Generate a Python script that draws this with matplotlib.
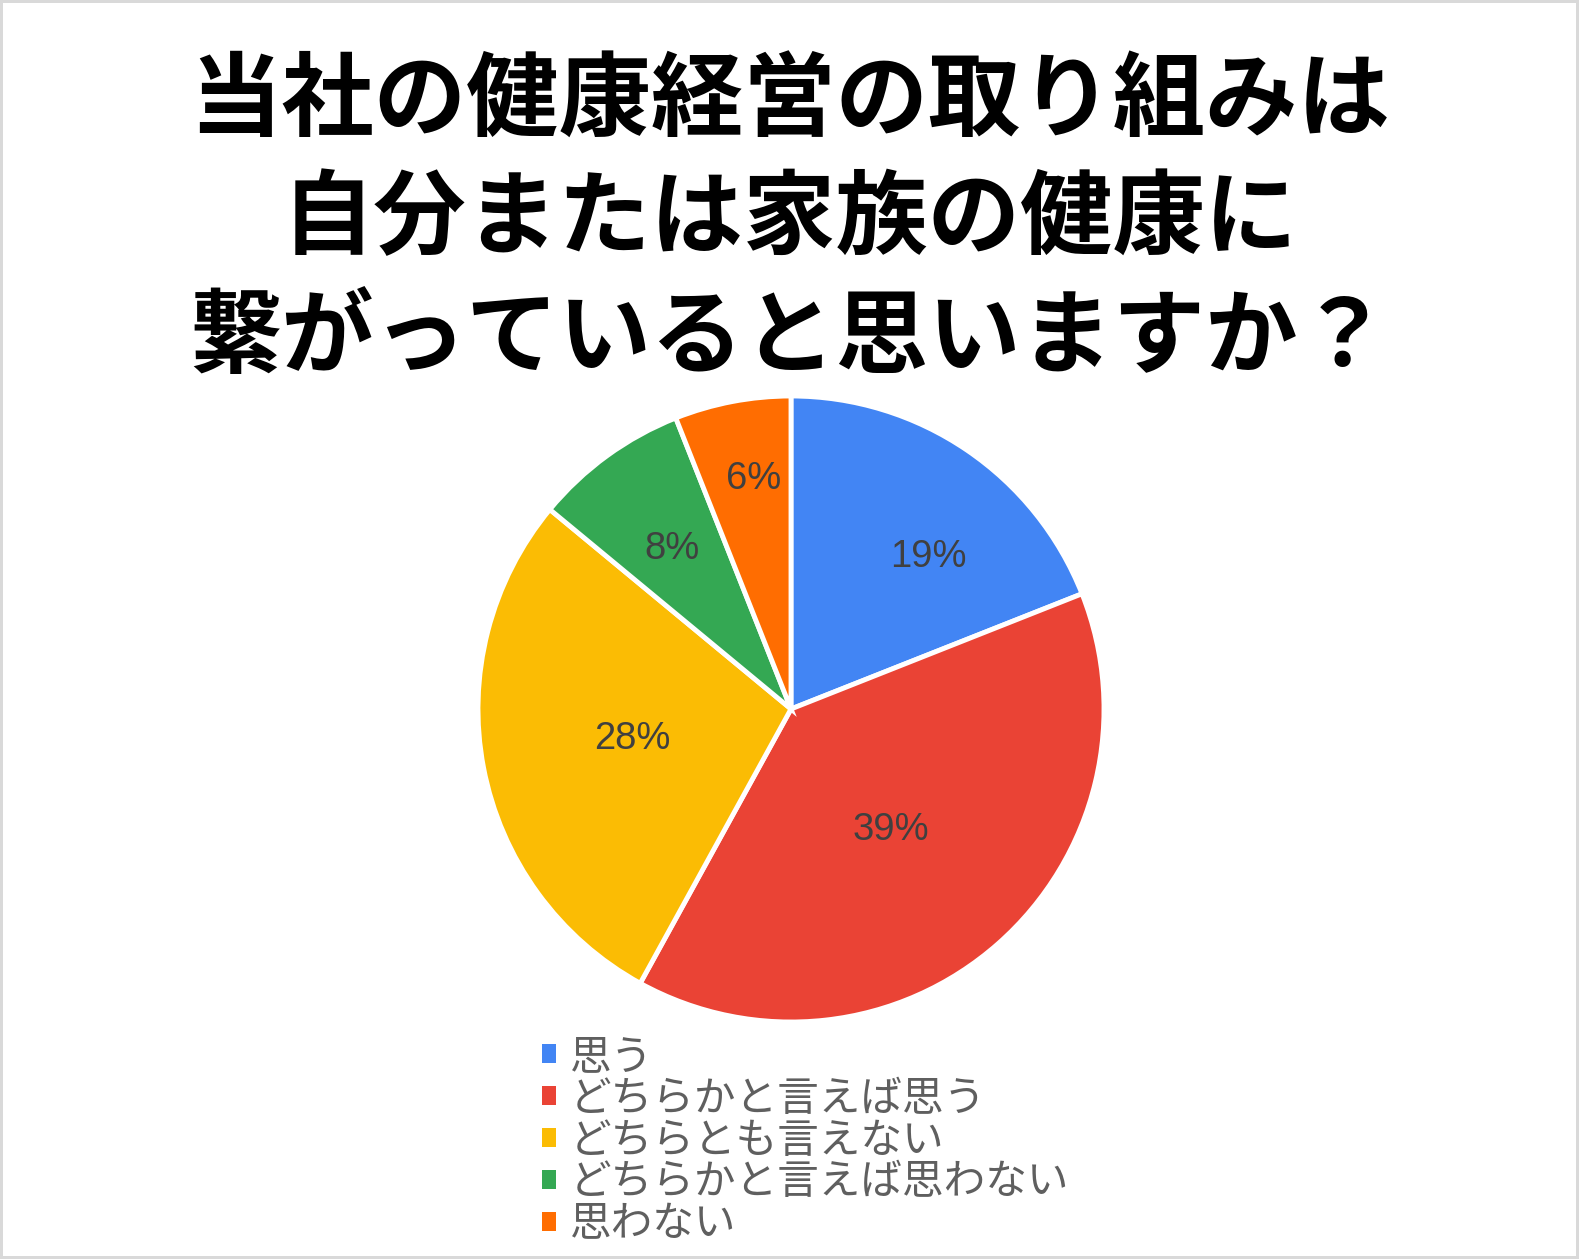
import matplotlib
matplotlib.use('Agg')
import numpy as np
import matplotlib.pyplot as plt
from matplotlib.patches import Patch

# ----------- data -------------------------
title_lines = ['当社の健康経営の取り組みは',
               '自分または家族の健康に',
               '繋がっていると思いますか？']
labels = ['思う', 'どちらかと言えば思う', 'どちらとも言えない',
          'どちらかと言えば思わない', '思わない']
values = [19, 39, 28, 8, 6]
colors = ['#4285F4', '#EA4335', '#FBBC04', '#34A853', '#FF6D01']
# where the % label sits: distance (fraction of radius), angle shift in degrees
label_dist = [0.655, 0.50, 0.517, 0.636, 0.744]
label_shift = [-8, -1.8, 0, 0.6, -1.5]

jp = ['Noto Sans CJK JP', 'DejaVu Sans']

W, H = 1579, 1259
fig = plt.figure(figsize=(W / 100, H / 100), dpi=100)
fig.patch.set_facecolor('white')
fig.patch.set_edgecolor('#d9d9d9')
fig.patch.set_linewidth(4)

# pie centre / radius in px
cx, cy, r = 791 / W, 1 - 709 / H, 313
ax = fig.add_axes([cx - r / W, cy - r / H, 2 * r / W, 2 * r / H])
wedges, _ = ax.pie(values, colors=colors, startangle=90, counterclock=False,
                   radius=1, wedgeprops=dict(edgecolor='white', linewidth=3.5))
ax.set_xlim(-1, 1)
ax.set_ylim(-1, 1)
ax.set_aspect('equal')
ax.axis('off')

# percent labels
for w, v, d, s in zip(wedges, values, label_dist, label_shift):
    ang = np.deg2rad((w.theta1 + w.theta2) / 2 + s)
    ax.text(d * np.cos(ang), d * np.sin(ang), f'{v}%', ha='center', va='center',
            fontsize=27.5, color='#404040', family=['Liberation Sans', 'DejaVu Sans'])

# title
for txt, ypx in zip(title_lines, [103, 220, 339]):
    fig.text(0.5, 1 - ypx / H, txt, ha='center', va='center', fontsize=66.5,
             fontweight='bold', color='black', family=jp)

# legend
handles = [Patch(facecolor=c, edgecolor='none') for c in colors]
leg = fig.legend(handles, labels, loc='upper left',
                 bbox_to_anchor=(521 / W, 1 - 1016 / H),
                 frameon=False, handlelength=0.33, handleheight=0.33,
                 handletextpad=0.34, labelspacing=0.02, borderpad=0,
                 prop={'family': jp, 'size': 30})
for t in leg.get_texts():
    t.set_color('#5f5f5f')

fig.savefig('out.png', dpi=100)
